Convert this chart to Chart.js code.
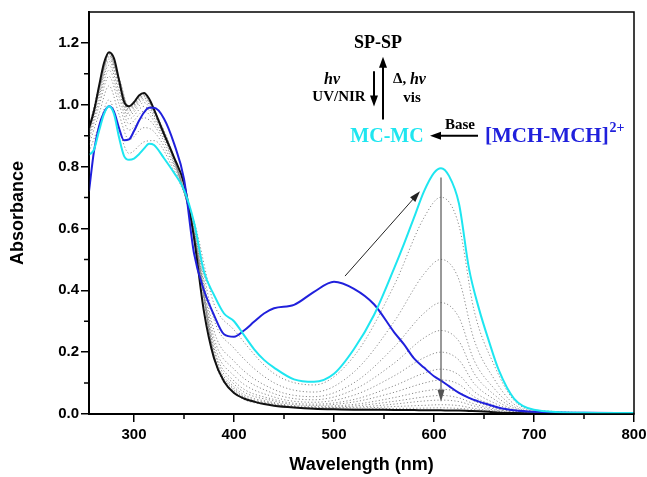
<!DOCTYPE html>
<html>
<head>
<meta charset="utf-8">
<script src="https://cdn.jsdelivr.net/npm/chart.js@4.4.1/dist/chart.umd.min.js"></script>
<style>
  html, body { margin: 0; padding: 0; background: #fff; }
</style>
</head>
<body>
<canvas id="myChart" width="647" height="477"></canvas>
<script>
// wavelength grid of the three main spectra (nm)
const wavelength = [255, 260, 265, 270, 275, 280, 285, 290, 295, 300, 305, 310, 315, 320, 330, 340, 350, 360, 370, 380,
  390, 400, 410, 420, 430, 440, 460, 480, 500, 520, 540, 560, 570, 580, 590, 600, 607, 615, 625, 635,
  645, 655, 665, 680, 700, 750, 800];

// SP-SP (black, end of irradiation)
const spsp = [0.925, 0.98, 1.06, 1.135, 1.17, 1.15, 1.08, 1.01, 0.995, 1.008, 1.03, 1.038, 1.02, 0.985, 0.905, 0.83, 0.745, 0.57, 0.33, 0.18,
  0.105, 0.068, 0.05, 0.04, 0.032, 0.027, 0.021, 0.017, 0.015, 0.014, 0.014, 0.013, 0.013, 0.013, 0.012, 0.012, 0.012, 0.011, 0.011, 0.01,
  0.009, 0.007, 0.004, 0.003, 0.002, 0.001, 0.0];

// MC-MC (cyan)
const mcmc = [0.838, 0.855, 0.915, 0.97, 0.995, 0.97, 0.895, 0.835, 0.822, 0.826, 0.84, 0.858, 0.874, 0.87, 0.827, 0.78, 0.725, 0.62, 0.46, 0.385,
  0.325, 0.30, 0.255, 0.21, 0.175, 0.15, 0.112, 0.104, 0.13, 0.21, 0.32, 0.47, 0.55, 0.635, 0.72, 0.78, 0.795, 0.77, 0.68, 0.47,
  0.34, 0.235, 0.14, 0.05, 0.014, 0.004, 0.003];

// [MCH-MCH]2+ (blue)
const mchmch = [0.72, 0.85, 0.93, 0.975, 0.995, 0.978, 0.925, 0.885, 0.888, 0.915, 0.948, 0.975, 0.99, 0.99, 0.955, 0.875, 0.76, 0.52, 0.40, 0.32,
  0.258, 0.25, 0.27, 0.298, 0.325, 0.342, 0.353, 0.395, 0.428, 0.405, 0.355, 0.265, 0.225, 0.18, 0.15, 0.122, 0.108, 0.09, 0.068, 0.052,
  0.04, 0.03, 0.02, 0.012, 0.007, 0.004, 0.003];

// intermediate spectra during irradiation (grey dotted)
const grayWavelength = [255, 265, 275, 285, 295, 310, 320, 340, 360, 380, 400, 440, 480, 520, 560, 590, 607, 625, 640, 660, 680, 700, 800];
const g1  = [0.848, 0.932, 1.016, 0.918, 0.843, 0.880, 0.884, 0.786, 0.624, 0.356, 0.272, 0.131, 0.094, 0.187, 0.415, 0.635, 0.701, 0.609, 0.336, 0.159, 0.044, 0.013, 0.003];
const g2  = [0.871, 0.970, 1.061, 0.969, 0.887, 0.926, 0.913, 0.799, 0.611, 0.305, 0.213, 0.101, 0.071, 0.136, 0.298, 0.453, 0.500, 0.434, 0.241, 0.114, 0.032, 0.010, 0.002];
const g3  = [0.886, 0.996, 1.092, 1.003, 0.918, 0.958, 0.934, 0.808, 0.602, 0.269, 0.171, 0.079, 0.056, 0.101, 0.216, 0.326, 0.360, 0.312, 0.174, 0.083, 0.024, 0.007, 0.001];
const g4  = [0.896, 1.012, 1.112, 1.026, 0.938, 0.979, 0.947, 0.814, 0.597, 0.246, 0.145, 0.066, 0.046, 0.079, 0.164, 0.246, 0.270, 0.235, 0.132, 0.063, 0.019, 0.006, 0.001];
const g5  = [0.904, 1.025, 1.128, 1.043, 0.954, 0.995, 0.957, 0.818, 0.592, 0.228, 0.124, 0.055, 0.038, 0.061, 0.123, 0.182, 0.200, 0.174, 0.099, 0.048, 0.014, 0.005, 0.001];
const g6  = [0.910, 1.035, 1.140, 1.057, 0.966, 1.007, 0.965, 0.822, 0.589, 0.214, 0.107, 0.047, 0.032, 0.047, 0.091, 0.132, 0.145, 0.126, 0.073, 0.036, 0.011, 0.004, 0.001];
const g7  = [0.914, 1.042, 1.148, 1.066, 0.973, 1.016, 0.971, 0.824, 0.586, 0.205, 0.097, 0.042, 0.028, 0.039, 0.070, 0.100, 0.110, 0.096, 0.056, 0.028, 0.009, 0.004, 0];
const g8  = [0.917, 1.047, 1.155, 1.073, 0.980, 1.022, 0.975, 0.826, 0.584, 0.197, 0.088, 0.037, 0.025, 0.031, 0.053, 0.074, 0.080, 0.070, 0.042, 0.021, 0.007, 0.003, 0];
const g9  = [0.920, 1.051, 1.159, 1.078, 0.984, 1.027, 0.978, 0.827, 0.583, 0.192, 0.082, 0.034, 0.022, 0.026, 0.041, 0.055, 0.060, 0.052, 0.033, 0.017, 0.006, 0.003, 0];
const g10 = [0.921, 1.054, 1.163, 1.082, 0.988, 1.030, 0.980, 0.828, 0.582, 0.188, 0.078, 0.032, 0.021, 0.022, 0.032, 0.042, 0.045, 0.040, 0.026, 0.013, 0.005, 0.002, 0];
const g11 = [0.923, 1.057, 1.166, 1.086, 0.991, 1.034, 0.982, 0.829, 0.581, 0.185, 0.073, 0.030, 0.019, 0.019, 0.024, 0.028, 0.030, 0.027, 0.018, 0.010, 0.004, 0.002, 0];
const g12 = [0.924, 1.059, 1.168, 1.088, 0.993, 1.036, 0.984, 0.830, 0.581, 0.182, 0.070, 0.028, 0.018, 0.016, 0.018, 0.019, 0.020, 0.018, 0.014, 0.008, 0.003, 0.002, 0];
const grays = [g1, g2, g3, g4, g5, g6, g7, g8, g9, g10, g11, g12];

// axis ticks
const xTicks = [300, 400, 500, 600, 700, 800];
const xMinor = [350, 450, 550, 650, 750];
const yTicks = [0, 0.2, 0.4, 0.6, 0.8, 1.0, 1.2];
const yMinor = [0.1, 0.3, 0.5, 0.7, 0.9, 1.1];

const CYAN = '#1ee6f0';
const BLUE = '#2020dc';
const SANS = '"Liberation Sans", Arial, sans-serif';
const SERIF = '"Liberation Serif", "Times New Roman", serif';

function pts(xs, ys) {
  return xs.map((x, i) => ({ x: x, y: ys[i] }));
}

const datasets = [
  { data: pts(wavelength, mcmc), borderColor: CYAN, borderWidth: 2 },
  { data: pts(wavelength, mchmch), borderColor: BLUE, borderWidth: 2 },
  { data: pts(wavelength, spsp), borderColor: '#111', borderWidth: 2 }
];
grays.forEach(g => {
  datasets.push({ data: pts(grayWavelength, g), borderColor: '#8a8a8a', borderWidth: 1, borderDash: [1.2, 2.2] });
});

// arrow helper
function arrow(ctx, x1, y1, x2, y2, color, width, headLen, headW) {
  const a = Math.atan2(y2 - y1, x2 - x1);
  const c = Math.cos(a), s = Math.sin(a);
  ctx.strokeStyle = color;
  ctx.fillStyle = color;
  ctx.lineWidth = width;
  ctx.beginPath();
  ctx.moveTo(x1, y1);
  ctx.lineTo(x2 - c * headLen * 0.7, y2 - s * headLen * 0.7);
  ctx.stroke();
  ctx.beginPath();
  ctx.moveTo(x2, y2);
  ctx.lineTo(x2 - headLen * c + headW * s, y2 - headLen * s - headW * c);
  ctx.lineTo(x2 - headLen * c - headW * s, y2 - headLen * s + headW * c);
  ctx.closePath();
  ctx.fill();
}

const notes = {
  id: 'notes',
  afterDraw(chart) {
    const { ctx, chartArea: a, scales: { x, y } } = chart;
    const X = v => x.getPixelForValue(v);
    const Y = v => y.getPixelForValue(v);
    ctx.save();

    // frame
    ctx.strokeStyle = '#000';
    ctx.lineWidth = 1.5;
    ctx.strokeRect(a.left, a.top, a.right - a.left, a.bottom - a.top);

    // minor ticks
    ctx.beginPath();
    xMinor.forEach(v => { ctx.moveTo(X(v), a.bottom); ctx.lineTo(X(v), a.bottom + 5); });
    yMinor.forEach(v => { ctx.moveTo(a.left, Y(v)); ctx.lineTo(a.left - 5, Y(v)); });
    ctx.stroke();

    // trend arrows
    arrow(ctx, X(511), Y(0.446), X(586), Y(0.72), '#222', 1, 11, 3.5);
    arrow(ctx, X(607), Y(0.765), X(607), Y(0.04), '#555', 1.2, 12, 3.5);

    // reaction scheme
    ctx.textBaseline = 'middle';
    ctx.textAlign = 'center';
    ctx.fillStyle = '#000';
    ctx.font = 'bold 18px ' + SERIF;
    ctx.fillText('SP-SP', X(544), Y(1.20));

    arrow(ctx, X(549), Y(0.952), X(549), Y(1.155), '#000', 2, 11, 4);
    arrow(ctx, X(540), Y(1.108), X(540), Y(0.994), '#000', 2, 11, 4);

    ctx.fillStyle = '#000';
    ctx.font = 'italic bold 16px ' + SERIF;
    ctx.fillText('h\u03bd', X(498), Y(1.082));
    ctx.font = 'bold 15px ' + SERIF;
    ctx.fillText('UV/NIR', X(505), Y(1.026));

    ctx.textAlign = 'left';
    let tx = X(559);
    ctx.font = 'bold 15px ' + SERIF;
    ctx.fillText('\u0394, ', tx, Y(1.082));
    tx += ctx.measureText('\u0394, ').width;
    ctx.font = 'italic bold 16px ' + SERIF;
    ctx.fillText('h\u03bd', tx, Y(1.082));
    ctx.textAlign = 'center';
    ctx.font = 'bold 15px ' + SERIF;
    ctx.fillText('vis', X(578), Y(1.02));

    ctx.fillStyle = CYAN;
    ctx.font = 'bold 20px ' + SERIF;
    ctx.fillText('MC-MC', X(553), Y(0.897));

    arrow(ctx, X(644), Y(0.90), X(596), Y(0.90), '#000', 2, 11, 4);
    ctx.fillStyle = '#000';
    ctx.font = 'bold 15px ' + SERIF;
    ctx.fillText('Base', X(626), Y(0.934));

    ctx.textAlign = 'left';
    ctx.fillStyle = BLUE;
    ctx.font = 'bold 21px ' + SERIF;
    let bx = X(651);
    ctx.fillText('[MCH-MCH]', bx, Y(0.897));
    bx += ctx.measureText('[MCH-MCH]').width + 1;
    ctx.font = 'bold 14px ' + SERIF;
    ctx.fillText('2+', bx, Y(0.897) - 8);

    ctx.restore();
  }
};

const config = {
  type: 'line',
  data: { datasets: datasets },
  options: {
    responsive: false,
    animation: false,
    layout: { padding: { top: 12, right: 0, left: 0, bottom: 0 } },
    elements: {
      point: { radius: 0 },
      line: { cubicInterpolationMode: 'monotone', fill: false }
    },
    plugins: { legend: { display: false }, tooltip: { enabled: false } },
    scales: {
      x: {
        type: 'linear',
        min: 255,
        max: 800,
        afterBuildTicks: s => { s.ticks = xTicks.map(v => ({ value: v })); },
        afterFit: s => { s.height = 63; s.paddingRight = 13; s.paddingLeft = 0; },
        ticks: { color: '#000', font: { family: SANS, size: 15, weight: 'bold' }, padding: 4, maxRotation: 0, autoSkip: false },
        grid: { drawOnChartArea: false, drawTicks: true, tickLength: 8, color: '#000', lineWidth: 1.5 },
        border: { display: true, color: '#000', width: 2 },
        title: { display: true, text: 'Wavelength (nm)', color: '#000', font: { family: SANS, size: 18, weight: 'bold' }, padding: { top: 0, bottom: 1 } }
      },
      y: {
        type: 'linear',
        min: 0,
        max: 1.3,
        afterBuildTicks: s => { s.ticks = yTicks.map(v => ({ value: v })); },
        afterFit: s => { s.width = 89; s.paddingTop = 0; s.paddingBottom = 0; },
        ticks: { color: '#000', font: { family: SANS, size: 15, weight: 'bold' }, padding: 2, callback: v => v.toFixed(1) },
        grid: { drawOnChartArea: false, drawTicks: true, tickLength: 8, color: '#000', lineWidth: 1.5 },
        border: { display: true, color: '#000', width: 2 },
        title: { display: true, text: 'Absorbance', color: '#000', font: { family: SANS, size: 18, weight: 'bold' }, padding: { top: 7, bottom: 0 } }
      }
    }
  },
  plugins: [notes]
};

var myChart = document.getElementById('myChart').getContext('2d');
var theChart = new Chart(myChart, config);
</script>
</body>
</html>
